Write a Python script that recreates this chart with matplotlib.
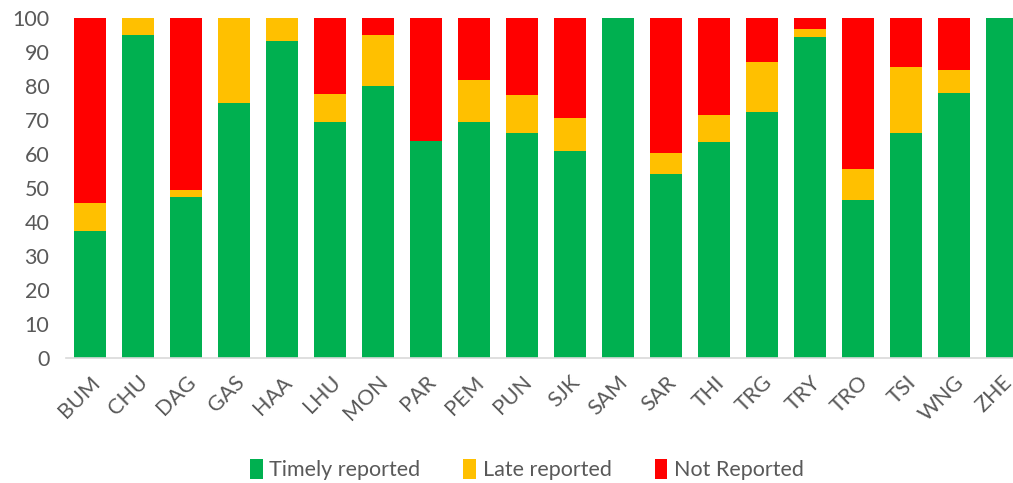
import matplotlib
matplotlib.use("Agg")
from matplotlib import pyplot as plt
import numpy as np

# Data (percent of reports)
districts = ["BUM", "CHU", "DAG", "GAS", "HAA", "LHU", "MON", "PAR", "PEM", "PUN",
             "SJK", "SAM", "SAR", "THI", "TRG", "TRY", "TRO", "TSI", "WNG", "ZHE"]
timely = [37.5, 95.0, 47.4, 75.0, 93.3, 69.4, 80.0, 64.0, 69.5, 66.4,
          61.1, 100.0, 54.3, 63.6, 72.4, 94.6, 46.6, 66.4, 78.0, 100.0]
late = [8.3, 5.0, 2.2, 25.0, 6.7, 8.4, 15.0, 0.0, 12.5, 10.9,
        9.7, 0.0, 6.2, 7.9, 14.7, 2.3, 9.2, 19.3, 6.8, 0.0]
not_reported = [54.2, 0.0, 50.4, 0.0, 0.0, 22.2, 5.0, 36.0, 18.0, 22.7,
                29.2, 0.0, 39.5, 28.5, 12.9, 3.1, 44.2, 14.3, 15.2, 0.0]

plt.rcParams["font.family"] = ["Lato", "DejaVu Sans"]
text_color = "#595959"

fig = plt.figure(figsize=(10.13, 4.83), dpi=100)
ax = fig.add_axes([66 / 1013, 1 - 358.3 / 483, 960 / 1013, 340 / 483])

x = np.arange(len(districts))
timely = np.array(timely)
late = np.array(late)
not_reported = np.array(not_reported)

ax.bar(x, timely, width=0.667, color="#00B050", label="Timely reported")
ax.bar(x, late, width=0.667, bottom=timely, color="#FFC000", label="Late reported")
ax.bar(x, not_reported, width=0.667, bottom=timely + late, color="#FF0000",
       label="Not Reported")

ax.set_xlim(-0.5, len(districts) - 0.5)
ax.set_ylim(0, 100)
ax.set_yticks(np.arange(0, 101, 10))
ax.set_xticks(x)
ax.set_xticklabels(districts, rotation=45, ha="right", rotation_mode="anchor")
ax.tick_params(axis="both", length=0, labelsize=15.5, colors=text_color)
ax.tick_params(axis="x", pad=10)
ax.tick_params(axis="y", pad=12)

for side in ["top", "right", "left"]:
    ax.spines[side].set_visible(False)
ax.spines["bottom"].set_color("#d9d9d9")
ax.spines["bottom"].set_linewidth(1.2)

leg = fig.legend(loc="center", bbox_to_anchor=(0.52, 0.027), ncol=3, frameon=False,
                 fontsize=15.5, handlelength=0.6, handleheight=1.0,
                 handletextpad=0.3, columnspacing=2.0)
for t in leg.get_texts():
    t.set_color(text_color)

fig.savefig("out.png", dpi=100)
